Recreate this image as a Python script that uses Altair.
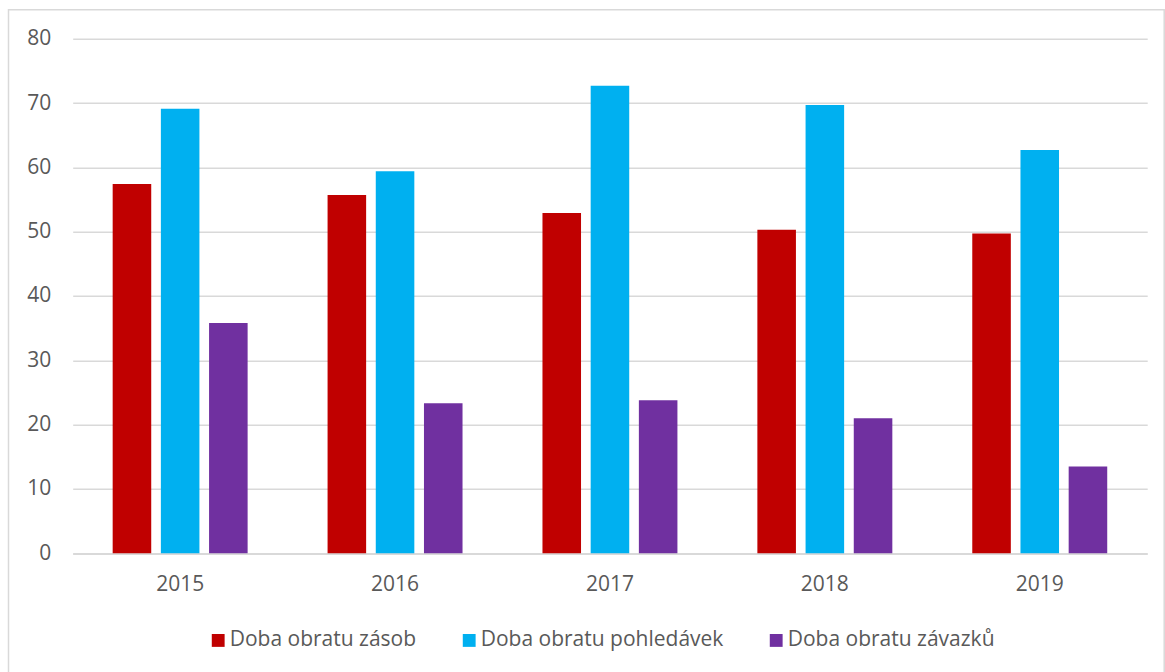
import altair as alt
import pandas as pd

years = ["2015", "2016", "2017", "2018", "2019"]
series = ["Doba obratu zásob", "Doba obratu pohledávek", "Doba obratu závazků"]
zasob = [57.4, 55.7, 52.9, 50.3, 49.7]
pohledavek = [69.1, 59.4, 72.7, 69.7, 62.7]
zavazku = [35.8, 23.3, 23.8, 21.0, 13.5]
colors = ["#C00000", "#00B0F0", "#7030A0"]
y_ticks = [0, 10, 20, 30, 40, 50, 60, 70, 80]

rows = []
for s, vals in zip(series, [zasob, pohledavek, zavazku]):
    for yr, v in zip(years, vals):
        rows.append({"rok": yr, "ukazatel": s, "hodnota": v})
df = pd.DataFrame(rows)

FONT = "Open Sans"
GRAY = "#595959"
GRID = "#D9D9D9"

bars = alt.Chart(df).mark_bar().encode(
    x=alt.X(
        "rok:N", sort=years, title=None,
        scale=alt.Scale(paddingInner=0.372, paddingOuter=0.186),
        axis=alt.Axis(labelAngle=0, labelFont=FONT, labelFontSize=21, labelColor=GRAY,
                      ticks=False, domain=True, domainColor=GRID, domainWidth=1.5,
                      labelPadding=20, grid=False),
    ),
    xOffset=alt.XOffset("ukazatel:N", sort=series,
                        scale=alt.Scale(domain=series, paddingInner=0.2, paddingOuter=0)),
    y=alt.Y(
        "hodnota:Q", title=None, scale=alt.Scale(domain=[0, 80], nice=False),
        axis=alt.Axis(values=y_ticks, labelFont=FONT, labelFontSize=21, labelColor=GRAY,
                      ticks=False, domain=False, grid=True, gridColor=GRID, gridWidth=1.5,
                      labelPadding=22),
    ),
    color=alt.Color(
        "ukazatel:N", sort=series,
        scale=alt.Scale(domain=series, range=colors),
        legend=alt.Legend(orient="none", legendX=135, legendY=591, direction="horizontal",
                          columns=3, title=None, symbolType="square", symbolSize=165,
                          symbolStrokeWidth=0, labelFont=FONT, labelFontSize=21,
                          labelColor=GRAY, labelOffset=1, columnPadding=42, padding=0,
                          labelLimit=0),
    ),
)

frame = alt.Chart(pd.DataFrame({"k": [0]})).mark_rect(
    filled=False, stroke=GRID, strokeWidth=1.5
).encode(
    x=alt.value(-64.2), x2=alt.value(1091.5), y=alt.value(-29), y2=alt.value(640)
)

chart = alt.layer(frame, bars).properties(
    width=1074.5, height=514.5,
    autosize=alt.AutoSizeParams(type="none"),
    padding={"left": 72.7, "top": 38.7, "right": 17.8, "bottom": 118.8},
    background="white",
).configure_view(stroke=None)

chart.save("out.html", embed_options={"renderer": "svg", "actions": False})
